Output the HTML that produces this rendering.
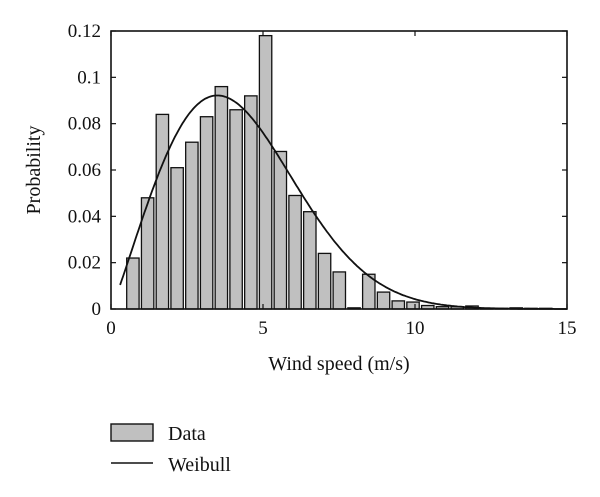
<!DOCTYPE html>
<html><head><meta charset="utf-8"><style>
body{margin:0;background:#fff;}
svg text{font-family:"Liberation Serif",serif;fill:#111;}
</style></head><body>
<svg id="chart" width="600" height="492">
<g id="bars"></g>
<path id="curve" fill="none" stroke="#111" stroke-width="1.8"/>
<rect x="111" y="31" width="456" height="278" fill="none" stroke="#111" stroke-width="1.6"/>
<g id="ticks"></g>
<text x="339" y="370" font-size="20" text-anchor="middle">Wind speed (m/s)</text>
<text transform="translate(40,170) rotate(-90)" font-size="20" text-anchor="middle">Probability</text>
<g>
<rect x="111" y="424" width="42" height="17" fill="#c0c0c0" stroke="#111" stroke-width="1.4"/>
<text x="168" y="440" font-size="20">Data</text>
<line x1="111" y1="463" x2="153" y2="463" stroke="#111" stroke-width="1.6"/>
<text x="168" y="471" font-size="20">Weibull</text>
</g>
</svg>
<script>
const binCenters=[0.72,1.205,1.69,2.175,2.66,3.145,3.63,4.115,4.6,5.085,5.57,6.055,6.54,7.025,7.51,7.995,8.48,8.965,9.45,9.935,10.42,10.905,11.39,11.875,12.36,12.845,13.33,13.815,14.3];
const probs=[0.022,0.048,0.084,0.061,0.072,0.083,0.096,0.086,0.092,0.118,0.068,0.049,0.042,0.024,0.016,0.0005,0.015,0.0073,0.0035,0.003,0.0015,0.001,0.001,0.0013,0.0003,0.0003,0.0005,0.0003,0.0003];
const binWidth=0.485;
const weibullK=2.1, weibullC=4.76, weibullScale=0.495;
const xTicks=[0,5,10,15];
const yTicks=[0,0.02,0.04,0.06,0.08,0.1,0.12];
const yTickLabels=["0","0.02","0.04","0.06","0.08","0.1","0.12"];
const X=v=>111+v*(456/15);
const Y=v=>309-v*(278/0.12);
const NS="http://www.w3.org/2000/svg";
const bars=document.getElementById('bars');
binCenters.forEach((c,i)=>{
 const r=document.createElementNS(NS,'rect');
 const x0=X(c-binWidth*0.42), x1=X(c+binWidth*0.42);
 r.setAttribute('x',x0);r.setAttribute('width',x1-x0);
 r.setAttribute('y',Y(probs[i]));r.setAttribute('height',Math.max(0,309-Y(probs[i])));
 r.setAttribute('fill','#c0c0c0');r.setAttribute('stroke','#111');r.setAttribute('stroke-width','1.3');
 
 
 bars.appendChild(r);
});
let d='';
for(let x=0.3;x<=15.001;x+=0.05){
 const f=weibullScale*(weibullK/weibullC)*Math.pow(x/weibullC,weibullK-1)*Math.exp(-Math.pow(x/weibullC,weibullK));
 d+=(d?'L':'M')+X(x).toFixed(1)+','+Y(f).toFixed(1);
}
document.getElementById('curve').setAttribute('d',d);
const tk=document.getElementById('ticks');
function add(tag,attrs,txt,name){const e=document.createElementNS(NS,tag);for(const k in attrs)e.setAttribute(k,attrs[k]);if(txt!==undefined)e.textContent=txt;
 
 
 tk.appendChild(e);}
xTicks.forEach(v=>{add('line',{x1:X(v),x2:X(v),y1:309,y2:304,stroke:'#111','stroke-width':1.2},undefined,'x-tick');
 add('line',{x1:X(v),x2:X(v),y1:31,y2:36,stroke:'#111','stroke-width':1.2},undefined,'x-tick-top');
 add('text',{x:X(v),y:334,'font-size':19,'text-anchor':'middle'},String(v),'x-tick-label');});
yTicks.forEach((v,i)=>{add('line',{x1:111,x2:116,y1:Y(v),y2:Y(v),stroke:'#111','stroke-width':1.2},undefined,'y-tick');
 add('line',{x1:567,x2:562,y1:Y(v),y2:Y(v),stroke:'#111','stroke-width':1.2},undefined,'y-tick-right');
 add('text',{x:101,y:Y(v)+6,'font-size':19,'text-anchor':'end'},yTickLabels[i],'y-tick-label');});
</script>
</body></html>
